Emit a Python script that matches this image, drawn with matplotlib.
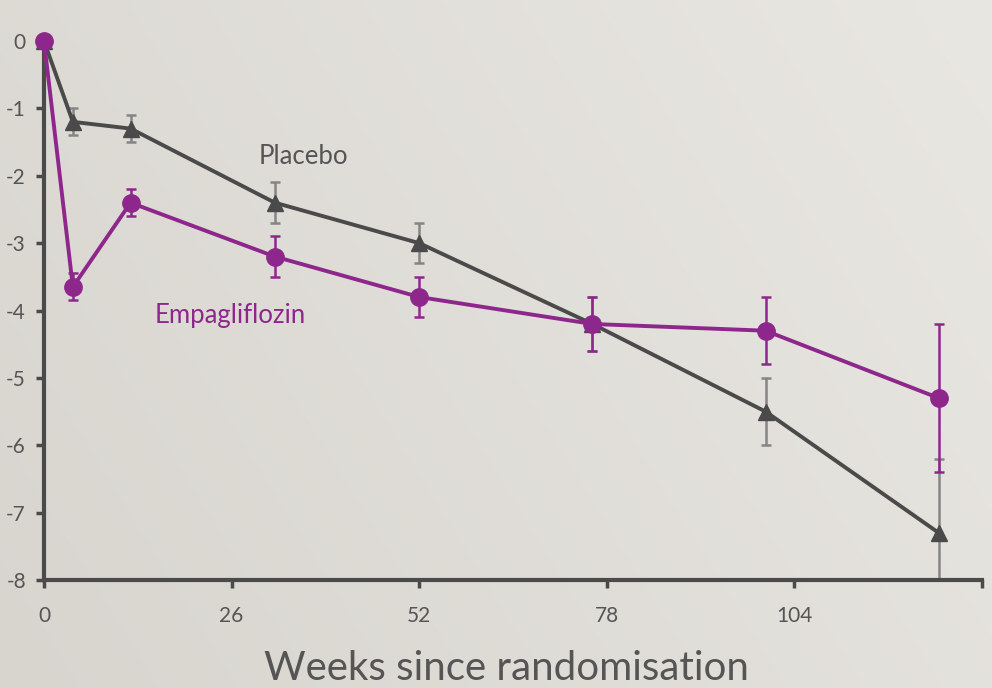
import numpy as np
import matplotlib
matplotlib.use("Agg")
import matplotlib.pyplot as plt

weeks = [0, 4, 12, 32, 52, 76, 100, 124]
empa = [0, -3.65, -2.4, -3.2, -3.8, -4.2, -4.3, -5.3]
empa_err = [0, 0.2, 0.2, 0.3, 0.3, 0.4, 0.5, 1.1]
placebo = [0, -1.2, -1.3, -2.4, -3.0, -4.2, -5.5, -7.3]
placebo_err = [0, 0.2, 0.2, 0.3, 0.3, 0.4, 0.5, 1.1]
xticks = [0, 26, 52, 78, 104, 130]
xticklabels = ["0", "26", "52", "78", "104", ""]
yticks = [0, -1, -2, -3, -4, -5, -6, -7, -8]
yticklabels = ["0", "-1", "-2", "-3", "-4", "-5", "-6", "-7", "-8"]

plt.rcParams['font.family'] = ['Lato', 'DejaVu Sans']
plt.rcParams['font.weight'] = 'normal'

PURPLE = "#8e278c"
DARK = "#4a4a4a"
GREYERR = "#858585"
TXT = "#555555"

fig = plt.figure(figsize=(9.92, 6.88), dpi=100)
# background gradient
bg = fig.add_axes([0, 0, 1, 1], zorder=-10)
gx = np.linspace(0, 1, 256)
gy = np.linspace(0, 1, 256)
X, Y = np.meshgrid(gx, gy)
t = np.clip(0.7 * X + 0.3 * (1 - Y), 0, 1)
c0 = np.array([0xd8, 0xd5, 0xcf]) / 255
c1 = np.array([0xe9, 0xe7, 0xe2]) / 255
img = c0[None, None, :] * (1 - t[..., None]) + c1[None, None, :] * t[..., None]
bg.imshow(img, aspect='auto', extent=[0, 1, 0, 1], origin='upper')
bg.axis('off')

ax = fig.add_axes([44/992, 1 - 580/688, (982-44)/992, (580-41)/688])
ax.patch.set_alpha(0)

ax.errorbar(weeks, placebo, yerr=placebo_err, fmt='none', ecolor=GREYERR,
            elinewidth=1.8, capsize=3.5, capthick=1.8, zorder=2)
ax.plot(weeks, placebo, color=DARK, lw=2.8, marker='^', ms=12,
        markeredgecolor=DARK, markerfacecolor=DARK, zorder=3, clip_on=False)
ax.errorbar(weeks, empa, yerr=empa_err, fmt='none', ecolor=PURPLE,
            elinewidth=1.8, capsize=3.5, capthick=1.8, zorder=4)
ax.plot(weeks, empa, color=PURPLE, lw=2.8, marker='o', ms=12.5,
        markeredgecolor=PURPLE, markerfacecolor=PURPLE, zorder=5, clip_on=False)

ax.set_xlim(0, 130)
ax.set_ylim(-8, 0)
ax.set_xticks(xticks)
ax.set_xticklabels(xticklabels)
ax.set_yticks(yticks)
ax.set_yticklabels(yticklabels)

for s in ['top', 'right']:
    ax.spines[s].set_visible(False)
for s in ['left', 'bottom']:
    ax.spines[s].set_color(DARK)
    ax.spines[s].set_linewidth(3)
ax.tick_params(axis='both', colors=DARK, width=2.5, length=6, direction='out',
               labelcolor=TXT, labelsize=15)
ax.tick_params(axis='x', pad=13)
ax.tick_params(axis='y', pad=7)

ax.text(35.9, -1.72, "Placebo", color=TXT, fontsize=18.5, ha='center', va='center')
ax.text(25.8, -4.07, "Empagliflozin", color=PURPLE, fontsize=18.5, ha='center', va='center')

fig.text(506/992, 1 - 668/688, "Weeks since randomisation", color=TXT,
         fontsize=29, ha='center', va='center')

fig.savefig("out.png", dpi=100)
